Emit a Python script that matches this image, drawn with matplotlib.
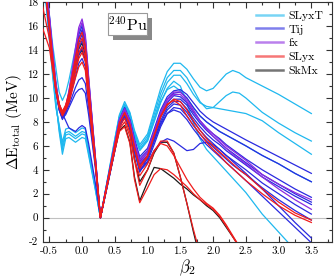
import numpy as np
import matplotlib
matplotlib.use('Agg')
import matplotlib.pyplot as plt
from matplotlib.lines import Line2D
from matplotlib.patches import Rectangle
from matplotlib.ticker import MultipleLocator

plt.rcParams['font.family'] = 'cmr10'
plt.rcParams['mathtext.fontset'] = 'cm'
plt.rcParams['axes.unicode_minus'] = False

# deformation grid (beta2) shared by all curves
beta2 = [-0.6, -0.5, -0.45, -0.4, -0.35, -0.3, -0.25, -0.2, -0.1, -0.05, 0.0, 0.05, 0.1, 0.2, 0.28,
         0.4, 0.5, 0.57, 0.65, 0.73, 0.8, 0.88,
         1.0, 1.1, 1.2, 1.3, 1.4, 1.5, 1.6, 1.7, 1.8, 1.9,
         2.0, 2.1, 2.2, 2.3, 2.4, 2.5, 2.75, 3.0, 3.25, 3.5]

# SLyxT (cyan)
slyxt_1 = [21.0, 15.5, 12.5, 9.8, 7.2, 5.3, 6.6, 6.7, 6.3, 6.5, 6.7, 6.6, 5.2, 2.4, 0.0,
           3.6, 6.6, 8.6, 9.7, 8.8, 7.3, 6.1,
           7.0, 8.9, 10.8, 12.2, 12.9, 12.9, 12.4, 11.6, 10.9, 10.6,
           10.8, 11.4, 12.0, 12.3, 12.1, 11.7, 11.0, 10.3, 9.5, 8.7]
slyxt_2 = [21.0, 15.3, 12.3, 9.6, 7.4, 5.7, 6.9, 7.0, 6.6, 6.8, 7.0, 6.9, 5.4, 2.5, 0.0,
           3.5, 6.5, 8.5, 9.5, 8.7, 7.1, 5.9,
           6.8, 8.6, 10.4, 11.7, 12.3, 12.3, 11.7, 10.7, 9.7, 9.1,
           9.2, 9.7, 10.2, 10.5, 10.4, 10.0, 8.8, 7.9, 7.1, 6.4]
slyxt_3 = [21.0, 15.1, 12.1, 9.4, 7.6, 6.0, 7.1, 7.2, 6.8, 7.0, 7.2, 7.1, 5.6, 2.6, 0.0,
           3.5, 6.4, 8.4, 9.4, 8.6, 7.0, 5.7,
           6.6, 8.3, 10.0, 11.3, 11.9, 11.9, 11.2, 10.3, 9.6, 9.3,
           9.2, 9.1, 9.0, 8.9, 8.8, 8.7, 8.1, 7.1, 6.2, 5.3]
slyxt_4 = [21.0, 14.9, 11.9, 9.2, 7.8, 6.3, 7.4, 7.5, 7.1, 7.3, 7.5, 7.4, 5.8, 2.7, 0.0,
           3.4, 6.3, 8.3, 9.3, 8.5, 6.9, 5.6,
           6.4, 8.0, 9.6, 10.8, 11.4, 11.0, 9.6, 7.9, 6.6, 5.7,
           5.1, 4.5, 3.9, 3.3, 2.7, 2.1, 0.3, -1.2, -2.7, None]
slyxt_5 = [21.0, 17.0, 14.5, 12.5, 10.5, 9.8, 10.4, 11.5, 14.2, 15.5, 16.2, 15.0, 11.6, 5.3, 0.0,
           3.4, 6.3, 8.3, 9.4, 8.6, 7.0, 5.7,
           6.5, 8.1, 9.7, 10.7, 11.0, 10.6, 10.0, 9.2, 8.5, 8.0,
           7.6, 7.2, 6.9, 6.6, 6.3, 6.0, 5.2, 4.5, 3.7, 3.0]

# Tij (blue)
tij_1 = [21.5, 16.8, 13.8, 11.2, 9.2, 8.4, 9.1, 10.4, 13.7, 15.3, 16.0, 14.8, 11.4, 5.2, 0.0,
         3.4, 6.2, 8.2, 9.2, 8.2, 6.6, 5.1,
         5.8, 7.4, 9.0, 10.1, 10.6, 10.7, 10.3, 9.6, 8.9, 8.4,
         8.0, 7.7, 7.4, 7.1, 6.8, 6.5, 5.8, 5.1, 4.4, 3.7]
tij_2 = [21.5, 16.6, 13.6, 11.0, 9.3, 8.5, 9.1, 10.3, 13.5, 15.0, 15.7, 14.6, 11.2, 5.1, 0.0,
         3.3, 6.1, 8.1, 9.1, 8.1, 6.4, 4.9,
         5.6, 7.2, 8.8, 9.9, 10.4, 10.5, 10.0, 9.2, 8.5, 8.0,
         7.6, 7.2, 6.9, 6.6, 6.3, 6.0, 5.2, 4.5, 3.7, 3.0]
tij_3 = [21.5, 16.5, 13.5, 10.9, 9.1, 8.3, 8.9, 10.1, 13.1, 14.6, 15.3, 14.2, 11.0, 5.0, 0.0,
         3.3, 6.0, 8.0, 9.0, 8.0, 6.3, 4.7,
         5.4, 7.0, 8.6, 9.6, 10.2, 10.1, 9.6, 8.8, 8.1, 7.5,
         7.0, 6.6, 6.1, 5.7, 5.3, 4.9, 4.0, 3.2, 2.4, 1.7]
tij_4 = [21.5, 16.4, 13.5, 11.1, 9.4, 8.6, 9.2, 10.2, 12.8, 14.2, 14.8, 13.8, 10.7, 4.9, 0.0,
         3.2, 5.9, 7.9, 8.9, 7.9, 6.1, 4.5,
         5.2, 6.8, 8.4, 9.4, 9.9, 9.9, 9.4, 8.6, 7.9, 7.3,
         6.8, 6.3, 5.8, 5.4, 5.0, 4.6, 3.6, 2.8, 2.0, 1.3]
tij_5 = [21.5, 16.3, 13.3, 10.8, 9.0, 8.2, 8.8, 9.8, 12.3, 13.6, 14.2, 13.3, 10.4, 4.8, 0.0,
         3.2, 5.9, 7.8, 8.8, 7.8, 6.0, 4.4,
         5.1, 6.6, 8.1, 9.2, 9.7, 9.7, 9.1, 8.3, 7.6, 7.0,
         6.5, 6.1, 5.6, 5.2, 4.8, 4.4, 3.4, 2.6, 1.8, 1.1]
tij_6 = [21.5, 16.2, 13.3, 10.9, 9.2, 8.4, 8.9, 9.7, 11.8, 12.9, 13.3, 12.6, 10.0, 4.7, 0.0,
         3.1, 5.8, 7.7, 8.7, 7.7, 5.9, 4.2,
         4.9, 6.4, 7.9, 9.0, 9.5, 9.4, 8.8, 8.0, 7.3, 6.7,
         6.2, 5.7, 5.2, 4.8, 4.4, 4.0, 2.9, 2.0, 1.1, 0.3]
tij_7 = [21.5, 16.0, 13.2, 10.8, 9.1, 8.4, 8.8, 9.4, 10.9, 11.5, 11.7, 11.2, 9.2, 4.5, 0.0,
         3.1, 5.7, 7.6, 8.6, 7.6, 5.7, 4.0,
         4.7, 6.1, 7.6, 8.7, 9.2, 9.1, 8.5, 7.7, 7.0, 6.4,
         5.9, 5.4, 4.9, 4.4, 4.0, 3.6, 2.5, 1.5, 0.6, -0.2]
tij_8 = [21.5, 15.8, 13.0, 10.7, 9.0, 8.3, 8.6, 9.2, 10.4, 10.7, 10.8, 10.4, 8.6, 4.3, 0.0,
         3.0, 5.6, 7.5, 8.5, 7.5, 5.6, 3.9,
         4.6, 5.6, 6.3, 6.6, 6.4, 6.0, 5.6, 5.7, 6.2, 6.3,
         6.1, 5.7, 5.2, 4.7, 4.2, 3.7, 2.4, 1.0, -0.4, -1.7]
tij_9 = [21.0, 15.5, 12.8, 10.5, 9.2, 8.7, 8.1, 7.5, 7.2, 7.5, 7.7, 7.5, 6.2, 3.0, 0.0,
         3.0, 5.6, 7.5, 8.5, 7.5, 5.5, 3.8,
         5.0, 6.4, 7.8, 8.7, 9.0, 8.8, 8.2, 7.4, 6.7, 6.1,
         5.6, 5.1, 4.6, 4.1, 3.6, 3.1, 1.8, 0.5, -0.8, -2.1]

# fx (purple)
fx_1 = [21.5, 17.0, 14.0, 11.3, 9.4, 8.6, 9.3, 10.6, 14.2, 15.9, 16.6, 15.3, 11.8, 5.3, 0.0,
        3.4, 6.2, 8.2, 9.1, 8.1, 6.4, 4.8,
        5.6, 7.2, 8.8, 9.9, 10.5, 10.5, 9.9, 9.0, 8.1, 7.4,
        6.8, 6.3, 5.8, 5.3, 4.9, 4.5, 3.4, 2.4, 1.5, 0.7]
fx_2 = [21.5, 16.9, 13.9, 11.2, 9.5, 8.7, 9.3, 10.5, 14.0, 15.6, 16.3, 15.0, 11.6, 5.2, 0.0,
        3.4, 6.1, 8.1, 9.0, 8.0, 6.3, 4.6,
        5.4, 7.0, 8.6, 9.7, 10.3, 10.3, 9.7, 8.9, 8.1, 7.5,
        7.0, 6.5, 6.0, 5.6, 5.2, 4.8, 3.6, 2.8, 2.1, 1.5]

# SLyx (red)
slyx_1 = [17.6, 15.0, 12.8, 10.8, 9.5, 8.8, 9.4, 10.4, 13.4, 14.9, 15.5, 14.4, 11.1, 5.0, 0.0,
          3.3, 6.0, 7.9, 8.8, 7.8, 5.9, 4.3,
          5.2, 6.9, 8.5, 9.5, 9.8, 9.4, 8.5, 7.7, 7.0, 6.3,
          5.7, 5.2, 4.6, 4.1, 3.6, 3.1, 2.0, 1.0, 0.2, -0.4]
slyx_2 = [15.8, 14.2, 12.4, 10.6, 9.5, 8.9, 9.4, 10.2, 13.0, 14.4, 15.0, 13.9, 10.8, 4.9, 0.0,
          3.3, 6.0, 7.9, 8.7, 7.7, 5.8, 4.1,
          5.1, 6.8, 8.4, 9.4, 9.9, 9.7, 9.0, 8.1, 7.3, 6.6,
          6.0, 5.5, 5.0, 4.5, 4.0, 3.6, 2.4, 1.3, 0.4, -0.2]
slyx_3 = [21.0, 16.2, 13.4, 10.9, 9.5, 8.7, 9.2, 10.0, 12.6, 13.8, 14.3, 13.4, 10.4, 4.8, 0.0,
          3.2, 5.8, 7.6, 8.3, 7.1, 4.8, 2.7,
          4.0, 5.5, 6.4, 6.4, 5.4, 3.4, 1.2, -1.0, -3.0, None,
          None, None, None, None, None, None, None, None, None, None]
slyx_4 = [21.0, 16.0, 13.2, 10.7, 9.3, 8.6, 9.1, 9.8, 12.2, 13.3, 13.8, 13.0, 10.1, 4.7, 0.0,
          3.1, 5.6, 7.2, 7.6, 6.2, 3.2, 1.25,
          2.5, 3.6, 4.1, 4.0, 3.6, 3.1, 2.6, 2.0, 1.5, 1.1,
          0.7, 0.1, -0.7, -1.6, -2.5, None, None, None, None, None]
slyx_5 = [21.0, 15.8, 13.0, 10.6, 9.2, 8.5, 9.0, 9.6, 11.7, 12.6, 13.0, 12.3, 9.6, 4.6, 0.0,
          3.1, 5.7, 7.4, 8.0, 6.8, 4.8, 3.5,
          4.5, 5.6, 6.2, 6.0, 5.2, 4.2, 3.2, 2.4, 1.7, 1.2,
          0.8, 0.2, -0.6, -1.5, -2.4, None, None, None, None, None]

# SkMx (black)
skmx_1 = [21.0, 16.3, 13.4, 11.0, 9.4, 8.6, 9.2, 10.1, 12.8, 14.1, 14.6, 13.6, 10.5, 4.8, 0.0,
          3.2, 5.8, 7.7, 8.5, 7.4, 5.0, 3.0,
          4.0, 5.4, 6.3, 6.3, 5.4, 3.4, 1.2, -1.2, -3.4, None,
          None, None, None, None, None, None, None, None, None, None]
skmx_2 = [21.0, 16.1, 13.2, 10.8, 9.3, 8.6, 9.1, 9.9, 12.4, 13.6, 14.0, 13.2, 10.2, 4.7, 0.0,
          3.1, 5.6, 7.3, 7.7, 6.3, 3.4, 1.4,
          3.0, 4.2, 4.1, 3.7, 3.3, 2.8, 2.4, 1.9, 1.5, 1.0,
          0.6, 0.0, -0.8, -1.6, -2.4, None, None, None, None, None]

# label, colour, curves, drawing order
families = [
    ('SLyxT', '#1fb8ef', [slyxt_1, slyxt_2, slyxt_3, slyxt_4, slyxt_5], 2),
    ('Tij', '#2a2ae0', [tij_1, tij_2, tij_3, tij_4, tij_5, tij_6, tij_7, tij_8, tij_9], 4),
    ('fx', '#8c2be0', [fx_1, fx_2], 5),
    ('SLyx', '#f01c1c', [slyx_1, slyx_2, slyx_3, slyx_4, slyx_5], 6),
    ('SkMx', '#1a1a1a', [skmx_1, skmx_2], 3),
]

fig = plt.figure(figsize=(3.34, 2.79), dpi=100)
ax = fig.add_axes([0.129, 0.134, 0.865, 0.858])

ax.axhline(0, color='#c0c0c0', lw=0.8, zorder=1)

handles = []
for label, color, curves, z in families:
    for c in curves:
        ax.plot(beta2, np.array(c, dtype=float), color=color, lw=0.9, zorder=z)
    handles.append(Line2D([], [], color=color, lw=1.8, alpha=0.6, label=label))

ax.set_xlim(-0.595, 3.815)
ax.set_ylim(-2, 18)
ax.xaxis.set_major_locator(MultipleLocator(0.5))
ax.xaxis.set_minor_locator(MultipleLocator(0.25))
ax.yaxis.set_major_locator(MultipleLocator(2))
ax.yaxis.set_minor_locator(MultipleLocator(1))
ax.tick_params(which='both', direction='in', top=True, right=True,
               labelsize=8, width=0.8, color='#333333')
ax.tick_params(which='major', length=4)
ax.tick_params(which='minor', length=2)
for s in ax.spines.values():
    s.set_color('#333333')
    s.set_linewidth(0.8)

ax.set_xlabel(r'$\beta_2$', fontsize=12, labelpad=1)
ax.set_ylabel(r'$\Delta\mathrm{E}_{\mathrm{total}}$ (MeV)', fontsize=11, labelpad=2)

# nucleus label with drop shadow
ax.add_patch(Rectangle((0.242, 0.841), 0.135, 0.092, transform=ax.transAxes,
                       facecolor='#888888', edgecolor='none', zorder=8))
ax.add_patch(Rectangle((0.225, 0.862), 0.135, 0.092, transform=ax.transAxes,
                       facecolor='white', edgecolor='#999999', lw=0.8, zorder=9))
ax.text(0.2925, 0.906, r'$^{240}$Pu', transform=ax.transAxes, fontsize=11.5,
        ha='center', va='center', zorder=10)

ax.legend(handles=handles, loc='upper right', frameon=False, fontsize=8.5,
          handlelength=2.3, labelspacing=0.3, borderaxespad=0.3, handletextpad=0.5)

fig.savefig('out.png', dpi=100)
